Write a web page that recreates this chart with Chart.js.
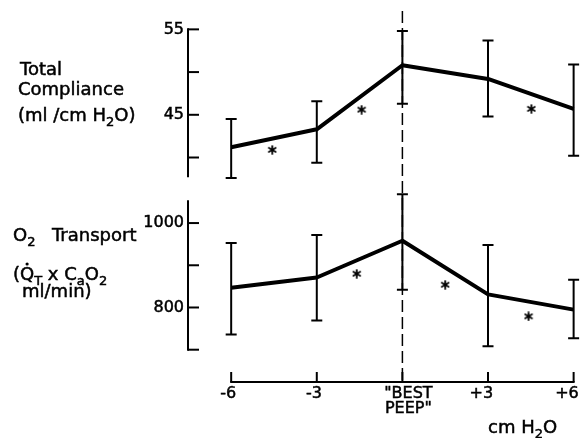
<!DOCTYPE html>
<html>
<head>
<meta charset="utf-8">
<script src="https://cdn.jsdelivr.net/npm/chart.js@4/dist/chart.umd.min.js"></script>
<style>
  body { margin: 0; background: #fff; }
  #wrap { width: 588px; height: 438px; }
</style>
</head>
<body>
<div id="wrap"><canvas id="peepChart"></canvas></div>
<script>
const peepLevels = [-6, -3, 0, 3, 6];
const peepLabels = ["-6", "-3", ["\"BEST", "PEEP\""], "+3", "+6"];

const complianceMean = [41.2, 43.3, 50.8, 49.2, 45.7];
const complianceHigh = [44.5, 46.6, 54.8, 53.7, 50.9];
const complianceLow = [37.6, 39.4, 46.3, 44.8, 40.2];
const complianceTicks = [55, 50, 45, 40];
const complianceTickLabels = ["55", "", "45", ""];

const transportMean = [847, 871, 958, 831, 795];
const transportHigh = [953, 972, 1068, 948, 866];
const transportLow = [736, 769, 842, 708, 727];
const transportTicks = [1000, 900, 800, 700];
const transportTickLabels = ["1000", "", "800", ""];

// asterisks (significant change between levels)
const complianceStarX = [-4.56, -1.43, 4.52];
const complianceStarY = [40.9, 45.6, 45.7];
const transportStarX = [-1.6, 1.5, 4.42];
const transportStarY = [880, 854, 779];

const FONT = '"DejaVu Sans", sans-serif';

function whiskers(low, high) {
  const pts = [];
  peepLevels.forEach((x, i) => {
    pts.push({ x: x, y: low[i] }, { x: x, y: high[i] }, { x: x, y: null });
  });
  return pts;
}

function points(xs, ys) {
  return xs.map((x, i) => ({ x: x, y: ys[i] }));
}

function makeAsterisk() {
  const c = document.createElement("canvas");
  c.width = 10;
  c.height = 10;
  const g = c.getContext("2d");
  g.strokeStyle = "#000";
  g.lineWidth = 1.8;
  g.lineCap = "round";
  for (let k = 0; k < 3; k++) {
    const a = Math.PI / 2 + (k * Math.PI) / 3;
    const dx = 3.9 * Math.cos(a), dy = 3.9 * Math.sin(a);
    g.beginPath();
    g.moveTo(5 - dx, 5 - dy);
    g.lineTo(5 + dx, 5 + dy);
    g.stroke();
  }
  return c;
}
const asterisk = makeAsterisk();

// fill + thin stroke so the type looks as heavy as the printed figure
function ink(ctx, t, x, y) {
  ctx.fillText(t, x, y);
  ctx.strokeText(t, x, y);
}

function drawRuns(ctx, x, y, runs, size) {
  runs.forEach((r) => {
    const sub = typeof r !== "string";
    const t = sub ? r.sub : r;
    ctx.font = (sub ? Math.round(size * 0.72) : size) + "px " + FONT;
    ink(ctx, t, x, sub ? y + size * 0.25 : y);
    x += ctx.measureText(t).width;
  });
  return x;
}

const paperAxes = {
  id: "paperAxes",
  beforeDatasetsDraw(chart) {
    const { ctx, scales, chartArea } = chart;
    const px = scales.x.getPixelForValue(0);
    ctx.save();
    ctx.strokeStyle = "#000";
    ctx.lineWidth = 1.5;
    ctx.setLineDash([12, 5]);
    ctx.beginPath();
    ctx.moveTo(px, 11);
    ctx.lineTo(px, chartArea.bottom);
    ctx.stroke();
    ctx.restore();
  },
  afterDatasetsDraw(chart) {
    const { ctx, scales, chartArea } = chart;
    const xs = scales.x, yc = scales.yComp, yt = scales.yTrans;
    const line = (x1, y1, x2, y2) => {
      ctx.beginPath();
      ctx.moveTo(x1, y1);
      ctx.lineTo(x2, y2);
      ctx.stroke();
    };
    ctx.save();
    ctx.strokeStyle = "#000";
    ctx.fillStyle = "#000";
    ctx.lineWidth = 2;
    const ax = chartArea.left;

    // compliance axis
    line(ax, yc.getPixelForValue(55) - 1, ax, yc.getPixelForValue(37.7));
    // transport axis
    line(ax, yt.getPixelForValue(1054), ax, yt.getPixelForValue(700) + 1);

    complianceTicks.forEach((v) => {
      const py = yc.getPixelForValue(v);
      line(ax, py, ax + 11, py);
    });
    transportTicks.forEach((v) => {
      const py = yt.getPixelForValue(v);
      line(ax, py, ax + 11, py);
    });

    // x axis
    const by = chartArea.bottom;
    line(xs.getPixelForValue(-6) - 1, by, xs.getPixelForValue(6) + 1, by);
    peepLevels.forEach((v) => {
      const px = xs.getPixelForValue(v);
      line(px, by, px, by - 10);
    });

    // text
    ctx.lineWidth = 0.5;
    ctx.font = "16px " + FONT;
    ctx.textAlign = "right";
    ctx.textBaseline = "middle";
    complianceTicks.forEach((v, i) => {
      if (complianceTickLabels[i]) ink(ctx, complianceTickLabels[i], ax - 4, yc.getPixelForValue(v));
    });
    transportTicks.forEach((v, i) => {
      if (transportTickLabels[i]) ink(ctx, transportTickLabels[i], ax - 4, yt.getPixelForValue(v));
    });

    ctx.textBaseline = "alphabetic";
    peepLevels.forEach((v, i) => {
      const px = xs.getPixelForValue(v);
      const lab = peepLabels[i];
      if (Array.isArray(lab)) {
        ctx.textAlign = "center";
        ink(ctx, lab[0], px + 6, by + 16);
        ink(ctx, lab[1], px + 6, by + 31);
      } else {
        ctx.textAlign = "right";
        ink(ctx, lab, px + ctx.measureText("6").width / 2, by + 16);
      }
    });

    ctx.textAlign = "left";
    drawRuns(ctx, 20, 75, ["Total"], 18);
    drawRuns(ctx, 18, 95, ["Compliance"], 18);
    drawRuns(ctx, 18, 121, ["(ml /cm H", { sub: "2" }, "O)"], 18);

    drawRuns(ctx, 13, 241, ["O", { sub: "2" }], 18);
    drawRuns(ctx, 52, 241, ["Transport"], 18);
    let x = drawRuns(ctx, 13, 280, ["("], 18);
    ctx.font = "18px " + FONT;
    const qw = ctx.measureText("Q").width;
    ctx.beginPath();
    ctx.arc(x + qw / 2, 264, 1.6, 0, Math.PI * 2);
    ctx.fill();
    drawRuns(ctx, x, 280, ["Q", { sub: "T" }, " x C", { sub: "a" }, "O", { sub: "2" }], 18);
    drawRuns(ctx, 22, 297, ["ml/min)"], 18);

    drawRuns(ctx, 488, 433, ["cm H", { sub: "2" }, "O"], 18);
    ctx.restore();
  }
};

const thick = { borderColor: "#000", borderWidth: 4, pointRadius: 0, tension: 0, borderJoinStyle: "round", fill: false };
const whisk = {
  borderColor: "#000", borderWidth: 2, pointStyle: "line", pointRadius: 5.5,
  pointBorderWidth: 2, pointBorderColor: "#000", spanGaps: false, fill: false
};
const stars = { showLine: false, pointStyle: asterisk, pointRadius: 5, borderColor: "#000" };

new Chart(document.getElementById("peepChart"), {
  type: "line",
  data: {
    datasets: [
      Object.assign({ data: points(peepLevels, complianceMean), yAxisID: "yComp" }, thick),
      Object.assign({ data: whiskers(complianceLow, complianceHigh), yAxisID: "yComp" }, whisk),
      Object.assign({ data: points(complianceStarX, complianceStarY), yAxisID: "yComp" }, stars),
      Object.assign({ data: points(peepLevels, transportMean), yAxisID: "yTrans" }, thick),
      Object.assign({ data: whiskers(transportLow, transportHigh), yAxisID: "yTrans" }, whisk),
      Object.assign({ data: points(transportStarX, transportStarY), yAxisID: "yTrans" }, stars)
    ]
  },
  options: {
    responsive: true,
    maintainAspectRatio: false,
    animation: false,
    layout: { padding: { left: 188, right: 0, top: 5, bottom: 56 } },
    plugins: { legend: { display: false }, tooltip: { enabled: false } },
    scales: {
      x: { type: "linear", min: -7.513, max: 6.241, display: false },
      yComp: { type: "linear", min: 13.72, max: 57.56, display: false },
      yTrans: { type: "linear", min: 623.5, max: 1510.6, display: false }
    }
  },
  plugins: [paperAxes]
});
</script>
</body>
</html>
